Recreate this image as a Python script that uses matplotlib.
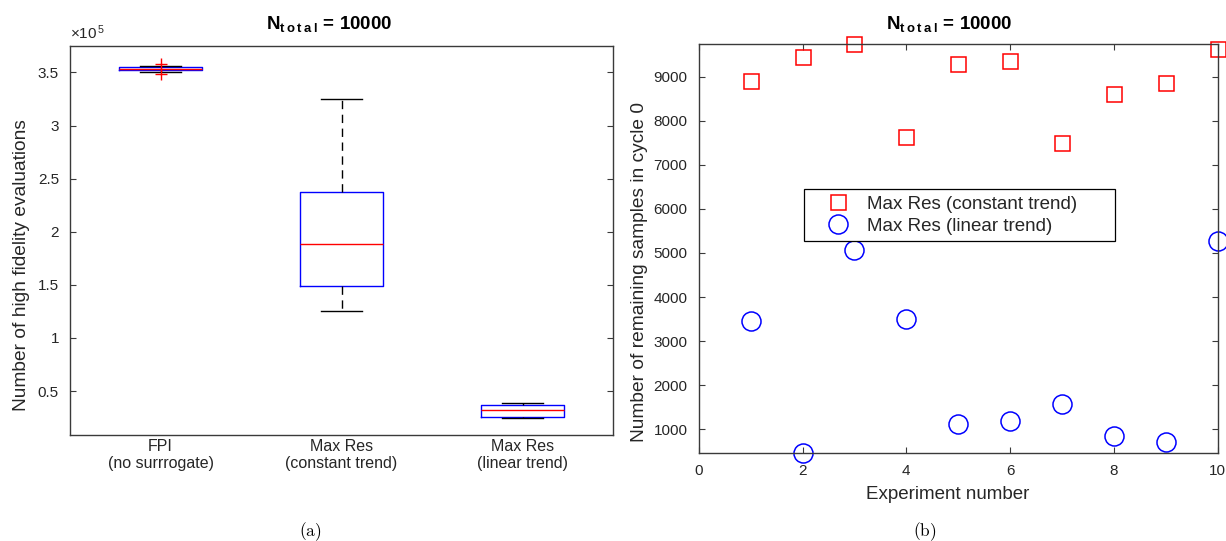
import matplotlib
matplotlib.use("Agg")
import matplotlib.pyplot as plt
from matplotlib.ticker import FuncFormatter

plt.rcParams['font.family'] = ['Liberation Sans', 'DejaVu Sans']
plt.rcParams['mathtext.fontset'] = 'custom'
plt.rcParams['mathtext.rm'] = 'Liberation Sans'
plt.rcParams['mathtext.bf'] = 'Liberation Sans:bold'
plt.rcParams['mathtext.it'] = 'Liberation Sans:italic'

# ---------------- data ----------------
categories = ['FPI\n(no surrrogate)', 'Max Res\n(constant trend)', 'Max Res\n(linear trend)']
q1 = [3.524e5, 1.490e5, 0.256e5]
med = [3.533e5, 1.882e5, 0.322e5]
q3 = [3.549e5, 2.378e5, 0.372e5]
whislo = [3.505e5, 1.257e5, 0.250e5]
whishi = [3.561e5, 3.248e5, 0.385e5]
fliers = [[3.580e5, 3.489e5], [], []]
left_yticks = [0.5e5, 1.0e5, 1.5e5, 2.0e5, 2.5e5, 3.0e5, 3.5e5]

experiments = [1, 2, 3, 4, 5, 6, 7, 8, 9, 10]
const_trend = [8909, 9454, 9742, 7639, 9295, 9349, 7503, 8608, 8864, 9635]
linear_trend = [3465, 455, 5061, 3496, 1114, 1189, 1568, 842, 706, 5280]
right_xticks = [0, 2, 4, 6, 8, 10]
right_yticks = [1000, 2000, 3000, 4000, 5000, 6000, 7000, 8000, 9000]

AX_COLOR = '#3a3a3a'
TXT_COLOR = '#262626'
TITLE = r'$\mathbf{N_{t\:o\:t\:a\:l}}$ = 10000'

W, H = 1226, 541
fig = plt.figure(figsize=(W / 100, H / 100), dpi=100)

def px_axes(x0, y0, x1, y1):
    return fig.add_axes([x0 / W, 1 - y1 / H, (x1 - x0) / W, (y1 - y0) / H])

def style_axes(ax):
    for s in ax.spines.values():
        s.set_color(AX_COLOR)
        s.set_linewidth(1.0)
    ax.tick_params(direction='in', length=4.3, width=0.8, color=AX_COLOR,
                   labelcolor=TXT_COLOR, labelsize=11, pad=8,
                   top=True, right=True)

# ---------------- left: box plot ----------------
L = (70, 45.7, 613, 434.7)
ax1 = px_axes(*L)
stats = []
for i in range(len(categories)):
    stats.append({'med': med[i], 'q1': q1[i], 'q3': q3[i],
                  'whislo': whislo[i], 'whishi': whishi[i],
                  'fliers': fliers[i], 'label': categories[i]})
ax1.bxp(stats, positions=[1, 2, 3], widths=0.455, showfliers=True,
        boxprops=dict(color='#0000ff', linewidth=1.0),
        medianprops=dict(color='#ff0000', linewidth=1.0),
        whiskerprops=dict(color='black', linewidth=1.0, linestyle=(0, (6, 4))),
        capprops=dict(color='black', linewidth=1.0),
        capwidths=0.23,
        flierprops=dict(marker='+', markeredgecolor='#ff0000', markersize=8,
                        markeredgewidth=1.0, linestyle='none'))
ax1.set_xlim(0.5, 3.5)
ax1.set_ylim(0.0885e5, 3.752e5)
style_axes(ax1)
ax1.tick_params(axis='x', length=0, labelsize=11.5, pad=3)
ax1.set_yticks(left_yticks)
ax1.yaxis.set_major_formatter(FuncFormatter(lambda v, p: '%g' % (v / 1e5)))
ax1.set_ylabel('Number of high fidelity evaluations', fontsize=13.8, color=TXT_COLOR)
ax1.yaxis.set_label_coords((30 - L[0]) / (L[2] - L[0]), (L[3] - 265) / (L[3] - L[1]))
ax1.text(0.0, 1.01, r'$\times10^{\,5}$', transform=ax1.transAxes, fontsize=11,
         color=TXT_COLOR, ha='left', va='bottom')
fig.text(329 / W, 1 - 29 / H, TITLE, fontsize=13.5, fontweight='bold',
         ha='center', va='baseline')

# ---------------- right: scatter ----------------
R = (698.7, 44, 1217.7, 453.3)
ax2 = px_axes(*R)
ax2.plot(experiments, const_trend, linestyle='none', marker='s', markersize=10.8,
         markerfacecolor='none', markeredgecolor='#ff0000', markeredgewidth=1.1,
         label='Max Res (constant trend)', clip_on=False)
ax2.plot(experiments, linear_trend, linestyle='none', marker='o', markersize=13.7,
         markerfacecolor='none', markeredgecolor='#0000ff', markeredgewidth=1.1,
         label='Max Res (linear trend)', clip_on=False)
ax2.set_xlim(0, 10)
ax2.set_ylim(min(linear_trend + const_trend), max(linear_trend + const_trend))
ax2.set_xticks(right_xticks)
ax2.set_yticks(right_yticks)
style_axes(ax2)
ax2.set_xlabel('Experiment number', fontsize=13.5, color=TXT_COLOR)
ax2.xaxis.set_label_coords((948 - R[0]) / (R[2] - R[0]), (R[3] - 486) / (R[3] - R[1]))
ax2.set_ylabel('Number of remaining samples in cycle 0', fontsize=13.8, color=TXT_COLOR)
ax2.yaxis.set_label_coords((648 - R[0]) / (R[2] - R[0]), (R[3] - 272) / (R[3] - R[1]))
fig.text(949 / W, 1 - 29 / H, TITLE, fontsize=13.5, fontweight='bold',
         ha='center', va='baseline')

lx0, ly0, lx1, ly1 = 804, 189, 1115, 241
leg = ax2.legend(loc='upper left',
                 bbox_to_anchor=(lx0 / W, 1 - ly1 / H, (lx1 - lx0) / W, (ly1 - ly0) / H),
                 bbox_transform=fig.transFigure, mode='expand', borderaxespad=0,
                 fontsize=13.5, frameon=True, fancybox=False, edgecolor='black',
                 framealpha=1, handlelength=2.93, handletextpad=0.08, borderpad=0.35,
                 labelspacing=0.27)
leg.get_frame().set_linewidth(0.9)
for t in leg.get_texts():
    t.set_color(TXT_COLOR)

# ---------------- subfigure labels ----------------
fig.text(310 / W, 1 - 532 / H, r'$\mathrm{(a)}$', math_fontfamily='cm', fontsize=12.5,
         ha='center', va='center')
fig.text(925 / W, 1 - 532 / H, r'$\mathrm{(b)}$', math_fontfamily='cm', fontsize=12.5,
         ha='center', va='center')

fig.savefig('out.png', dpi=100)
